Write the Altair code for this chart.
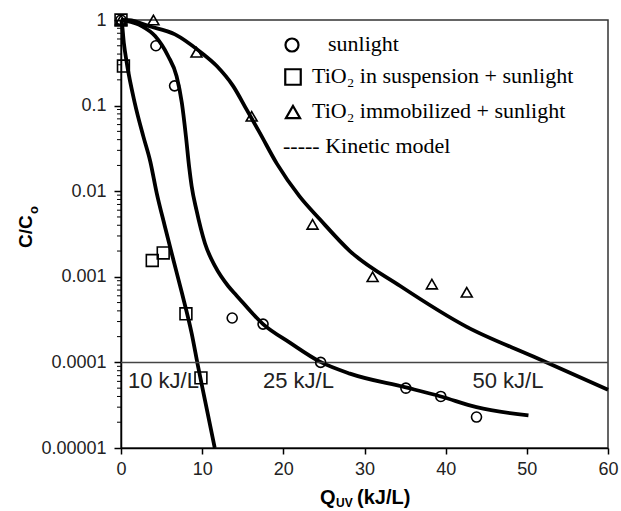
import altair as alt
import pandas as pd

# ---------------- data ----------------
# measured points
sun_x = [0, 4.3, 6.6, 13.7, 17.5, 24.6, 35.1, 39.4, 43.8]
sun_y = [1, 0.50, 0.17, 0.00033, 0.00028, 0.0001, 0.00005, 0.00004, 0.000023]
susp_x = [0, 0.3, 3.85, 5.2, 8.0, 9.85]
susp_y = [1, 0.29, 0.00155, 0.0019, 0.00037, 0.000066]
imm_x = [0, 4.0, 9.3, 16.1, 23.6, 31.0, 38.3, 42.6]
imm_y = [1, 1, 0.42, 0.075, 0.0041, 0.001, 0.00082, 0.00066]

# kinetic-model curves
susp_fit_x = [0, 0.1, 0.35, 0.7, 1.7, 2.75, 3.6, 4.4, 5.4, 6.45, 7.5, 8.7, 9.5, 10.35, 11.55]
susp_fit_y = [1, 0.93, 0.54, 0.32, 0.107, 0.0437, 0.0224, 0.0095, 0.0039, 0.00158,
              0.00065, 0.00022, 0.000089, 0.000036, 0.00001]
sun_fit_x = [0, 0.5, 2.55, 4.2, 5.8, 6.85, 7.5, 8.0, 8.4, 8.7, 9.3, 10.35, 11.6, 13.2,
             14.2, 17.5, 20.8, 24.5, 28.2, 35.1, 39.4, 43.8, 50.2]
sun_fit_y = [1, 0.98, 0.85, 0.65, 0.38, 0.22, 0.107, 0.0437, 0.019, 0.0115, 0.006,
             0.00245, 0.00132, 0.00078, 0.00061, 0.00028, 0.00017, 0.000102, 0.000074,
             0.000051, 0.00004, 0.00003, 0.000024]
imm_fit_x = [0, 1.0, 3.4, 6.65, 9.7, 11.8, 13.8, 15.5, 17.1, 19.2, 22.0, 24.5, 28.2,
             34.4, 42.6, 50.8, 60]
imm_fit_y = [1, 0.995, 0.85, 0.68, 0.43, 0.29, 0.17, 0.089, 0.048, 0.021, 0.0087,
             0.0047, 0.002, 0.00078, 0.00026, 0.000117, 0.000048]

threshold = [0.0001]
ann_text = ["10 kJ/L", "25 kJ/L", "50 kJ/L"]
ann_x = [0.86, 17.5, 43.3]
ann_y = [0.00005, 0.00005, 0.00005]

x_ticks = [0, 10, 20, 30, 40, 50, 60]
y_ticks = [1, 0.1, 0.01, 0.001, 0.0001, 0.00001]
minor_ticks = [k * d for d in [0.00001, 0.0001, 0.001, 0.01, 0.1] for k in range(2, 10)]

legend_labels = ["sunlight", "TiO\u2082 in suspension + sunlight",
                 "TiO\u2082 immobilized + sunlight", "----- Kinetic model"]

# ---------------- chart ----------------
W, H = 487, 428
xscale = alt.Scale(domain=[0, 60], nice=False, zero=False)
yscale = alt.Scale(type="log", domain=[0.00001, 1], nice=False)

xaxis = alt.Axis(values=x_ticks, title=None, grid=False, tickSize=6, tickWidth=1.5,
                 tickColor="black", domainColor="black", domainWidth=1.5,
                 labelFont="Liberation Sans", labelFontSize=18, labelColor="#222",
                 labelPadding=6, labelFlush=False, labelOverlap=False)
yaxis = alt.Axis(values=y_ticks, format=".5~f", title=None, grid=False, tickSize=7,
                 tickWidth=1.5, tickColor="black", domainColor="black", domainWidth=1.5,
                 labelFont="Liberation Sans", labelFontSize=18, labelColor="#222",
                 labelPadding=8, labelOverlap=False)


def X(field):
    return alt.X(field, scale=xscale, axis=xaxis)


def Y(field):
    return alt.Y(field, scale=yscale, axis=yaxis)


fit_rows = []
for name, xs, ys in [("susp", susp_fit_x, susp_fit_y), ("sun", sun_fit_x, sun_fit_y),
                     ("imm", imm_fit_x, imm_fit_y)]:
    for a, b in zip(xs, ys):
        fit_rows.append({"series": name, "x": a, "y": b})
df_fit = pd.DataFrame(fit_rows)

curves = alt.Chart(df_fit).mark_line(color="black", strokeWidth=3.8,
                                     interpolate="monotone").encode(
    x=X("x:Q"), y=Y("y:Q"), detail="series:N")

rule = alt.Chart(pd.DataFrame({"y": threshold})).mark_rule(
    color="#444", strokeWidth=1.5).encode(y=Y("y:Q"))

minor = alt.Chart(pd.DataFrame({"y": minor_ticks})).mark_rule(
    color="black", strokeWidth=1).encode(
    y=Y("y:Q"), x=alt.value(-4), x2=alt.value(0))


def pts(xs, ys, shape, size):
    return alt.Chart(pd.DataFrame({"x": xs, "y": ys})).mark_point(
        shape=shape, size=size, filled=False, color="black", strokeWidth=1.6,
        opacity=1).encode(x=X("x:Q"), y=Y("y:Q"))


p_sun = pts(sun_x, sun_y, "circle", 100)
p_susp = pts(susp_x, susp_y, "square", 140)
p_imm = pts(imm_x, imm_y, "triangle-up", 120)

ann = alt.Chart(pd.DataFrame({"t": ann_text, "x": ann_x, "y": ann_y})).mark_text(
    align="left", baseline="alphabetic", font="Liberation Sans", fontSize=22,
    color="#222").encode(x=X("x:Q"), y=Y("y:Q"), text="t:N")

one = pd.DataFrame({"a": [0]})


def sym(shape, size, px, py):
    return alt.Chart(one).mark_point(shape=shape, size=size, filled=False,
                                     color="black", strokeWidth=2.2, opacity=1).encode(
        x=alt.value(px), y=alt.value(py))


def txt(t, px, py, size=22, font="Liberation Serif", weight="normal", angle=0):
    return alt.Chart(one).mark_text(text=t, align="left", baseline="alphabetic",
                                    font=font, fontSize=size, fontWeight=weight,
                                    color="black", angle=angle).encode(
        x=alt.value(px), y=alt.value(py))


legend = [
    sym("circle", 170, 171, 25),
    sym("square", 240, 172, 57),
    sym("triangle-up", 200, 172, 92),
    txt(legend_labels[0], 207, 31),
    txt(legend_labels[1], 191, 63),
    txt(legend_labels[2], 191, 98),
    txt(legend_labels[3], 162, 133),
]

titles = [
    txt("Q", 199, 484, size=20, font="Liberation Sans", weight="bold"),
    txt("UV", 215, 487, size=12, font="Liberation Sans", weight="bold"),
    txt("(kJ/L)", 236, 484, size=20, font="Liberation Sans", weight="bold"),
    txt("C/C", -89, 228, size=19, font="Liberation Sans", weight="bold", angle=270),
    txt("o", -83, 194, size=13, font="Liberation Sans", weight="bold", angle=270),
]

chart = alt.layer(curves, rule, minor, p_sun, p_susp, p_imm, ann, *legend, *titles).properties(
    width=W, height=H,
    autosize=alt.AutoSizeParams(type="none"),
    padding={"left": 121, "top": 20, "right": 13, "bottom": 63},
    background="white",
).configure_view(stroke="#333", strokeWidth=1.5)

chart.save("out.html", embed_options={"renderer": "svg", "actions": False})
